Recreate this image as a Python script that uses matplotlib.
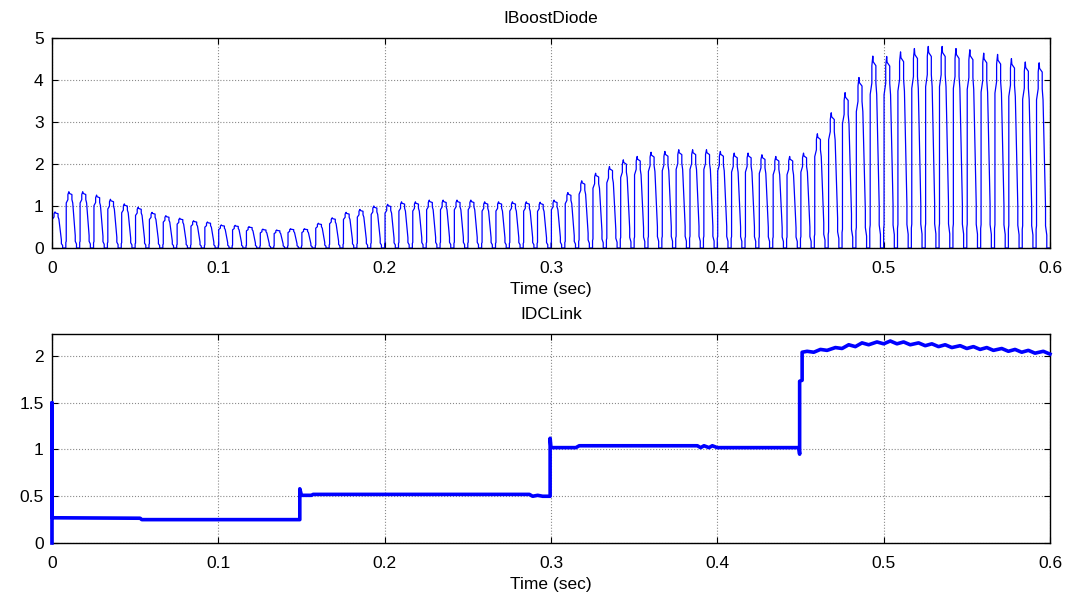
import numpy as np
import matplotlib
matplotlib.use("Agg")
import matplotlib.pyplot as plt

plt.rcParams['font.family'] = ['Liberation Sans', 'DejaVu Sans']

# ---------------- data ----------------
# IBoostDiode: peak value of each 120 Hz current pulse (72 pulses over 0.6 s)
PULSE_PERIOD = 0.6 / 72
PULSE_PEAKS = [
    0.86, 1.34, 1.34, 1.26, 1.16, 1.05, 0.97, 0.85, 0.77, 0.71,
    0.65, 0.62, 0.55, 0.54, 0.51, 0.45, 0.43, 0.46, 0.46, 0.59,
    0.72, 0.85, 0.92, 1.00, 1.04, 1.10, 1.10, 1.14, 1.14, 1.14,
    1.14, 1.10, 1.10, 1.10, 1.10, 1.09, 1.14, 1.32, 1.60, 1.78,
    1.94, 2.10, 2.18, 2.28, 2.30, 2.34, 2.34, 2.34, 2.30, 2.26,
    2.26, 2.22, 2.18, 2.18, 2.26, 2.72, 3.22, 3.70, 4.06, 4.57,
    4.56, 4.67, 4.75, 4.80, 4.80, 4.75, 4.72, 4.64, 4.61, 4.51,
    4.43, 4.41,
]
# stepped shape of one pulse (phase within period, fraction of peak)
PULSE_PHASE = [0.00, 0.00, 0.03, 0.03, 0.15, 0.15, 0.22, 0.25, 0.44, 0.44,
               0.50, 0.68, 0.68, 0.77, 0.77, 1.00]
PULSE_LEVEL = [0.00, 0.10, 0.12, 0.80, 0.86, 0.95, 1.00, 0.97, 0.95, 0.86,
               0.80, 0.22, 0.12, 0.07, 0.00, 0.00]

# IDCLink: vertices of the DC-link current trace
IDC_T = [0.000, 0.000, 0.000, 0.053, 0.054, 0.149, 0.149, 0.150, 0.156, 0.157,
         0.287, 0.289, 0.292, 0.295, 0.2995, 0.2995, 0.300, 0.315, 0.317, 0.388,
         0.390, 0.392, 0.395, 0.397, 0.400, 0.449, 0.4495, 0.4495, 0.451, 0.451,
         0.454, 0.458, 0.462, 0.466, 0.471, 0.475, 0.479, 0.483, 0.487, 0.491,
         0.496, 0.500, 0.504, 0.508, 0.512, 0.516, 0.521, 0.525, 0.529, 0.533,
         0.537, 0.541, 0.546, 0.550, 0.554, 0.558, 0.562, 0.566, 0.571, 0.575,
         0.579, 0.583, 0.587, 0.591, 0.596, 0.600]
IDC_V = [0.00, 1.50, 0.27, 0.265, 0.25, 0.25, 0.58, 0.51, 0.51, 0.52,
         0.52, 0.50, 0.51, 0.50, 0.50, 1.12, 1.02, 1.02, 1.04, 1.04,
         1.02, 1.04, 1.02, 1.04, 1.02, 1.02, 0.95, 1.73, 1.74, 2.04,
         2.05, 2.04, 2.07, 2.06, 2.09, 2.08, 2.12, 2.10, 2.14, 2.12,
         2.15, 2.13, 2.16, 2.13, 2.15, 2.12, 2.14, 2.11, 2.13, 2.10,
         2.12, 2.09, 2.11, 2.08, 2.10, 2.07, 2.09, 2.06, 2.08, 2.05,
         2.07, 2.04, 2.06, 2.03, 2.05, 2.02]

X_TICKS = [0, 0.1, 0.2, 0.3, 0.4, 0.5, 0.6]
X_LABELS = ["0", "0.1", "0.2", "0.3", "0.4", "0.5", "0.6"]
TOP_YTICKS = [0, 1, 2, 3, 4, 5]
TOP_YLABELS = ["0", "1", "2", "3", "4", "5"]
BOT_YTICKS = [0, 0.5, 1, 1.5, 2]
BOT_YLABELS = ["0", "0.5", "1", "1.5", "2"]

# build top waveform from pulse peaks and pulse shape
ph = np.array(PULSE_PHASE)
lv = np.array(PULSE_LEVEL)
tt, vv = [], []
for k, a in enumerate(PULSE_PEAKS):
    tt.append((k + ph) * PULSE_PERIOD)
    vv.append(a * lv)
tt = np.concatenate(tt)
vv = np.concatenate(vv)

# ---------------- figure ----------------
fig = plt.figure(figsize=(10.78, 5.96), dpi=100)
ax1 = fig.add_axes([0.0482, 0.5839, 0.9258, 0.3523])
ax2 = fig.add_axes([0.0482, 0.0889, 0.9258, 0.3507])

ax1.plot(tt, vv, color=(0, 0, 1), lw=0.9)
ax2.plot(IDC_T, IDC_V, color=(0, 0, 1), lw=2.6, solid_joinstyle='round',
         clip_on=False, zorder=3)

fs = 12.5
for ax, yt, yl, ylim, title in [
    (ax1, TOP_YTICKS, TOP_YLABELS, (0, 5), "IBoostDiode"),
    (ax2, BOT_YTICKS, BOT_YLABELS, (0, 2.235), "IDCLink"),
]:
    ax.set_xlim(0, 0.6)
    ax.set_ylim(*ylim)
    ax.set_xticks(X_TICKS)
    ax.set_xticklabels(X_LABELS)
    ax.set_yticks(yt)
    ax.set_yticklabels(yl)
    ax.tick_params(direction='in', length=4.5, width=0.8, top=True, right=True,
                   labelsize=fs, colors='black')
    ax.tick_params(axis='x', pad=9.5)
    ax.tick_params(axis='y', pad=6)
    ax.grid(True, color='#8a8a8a', linestyle=':', linewidth=0.8)
    for s in ax.spines.values():
        s.set_linewidth(1.0)
        s.set_color('black')
    ax.set_title(title, fontsize=fs, pad=11)
    ax.set_xlabel("Time (sec)", fontsize=fs, labelpad=4)

fig.savefig("out.png", dpi=100)
